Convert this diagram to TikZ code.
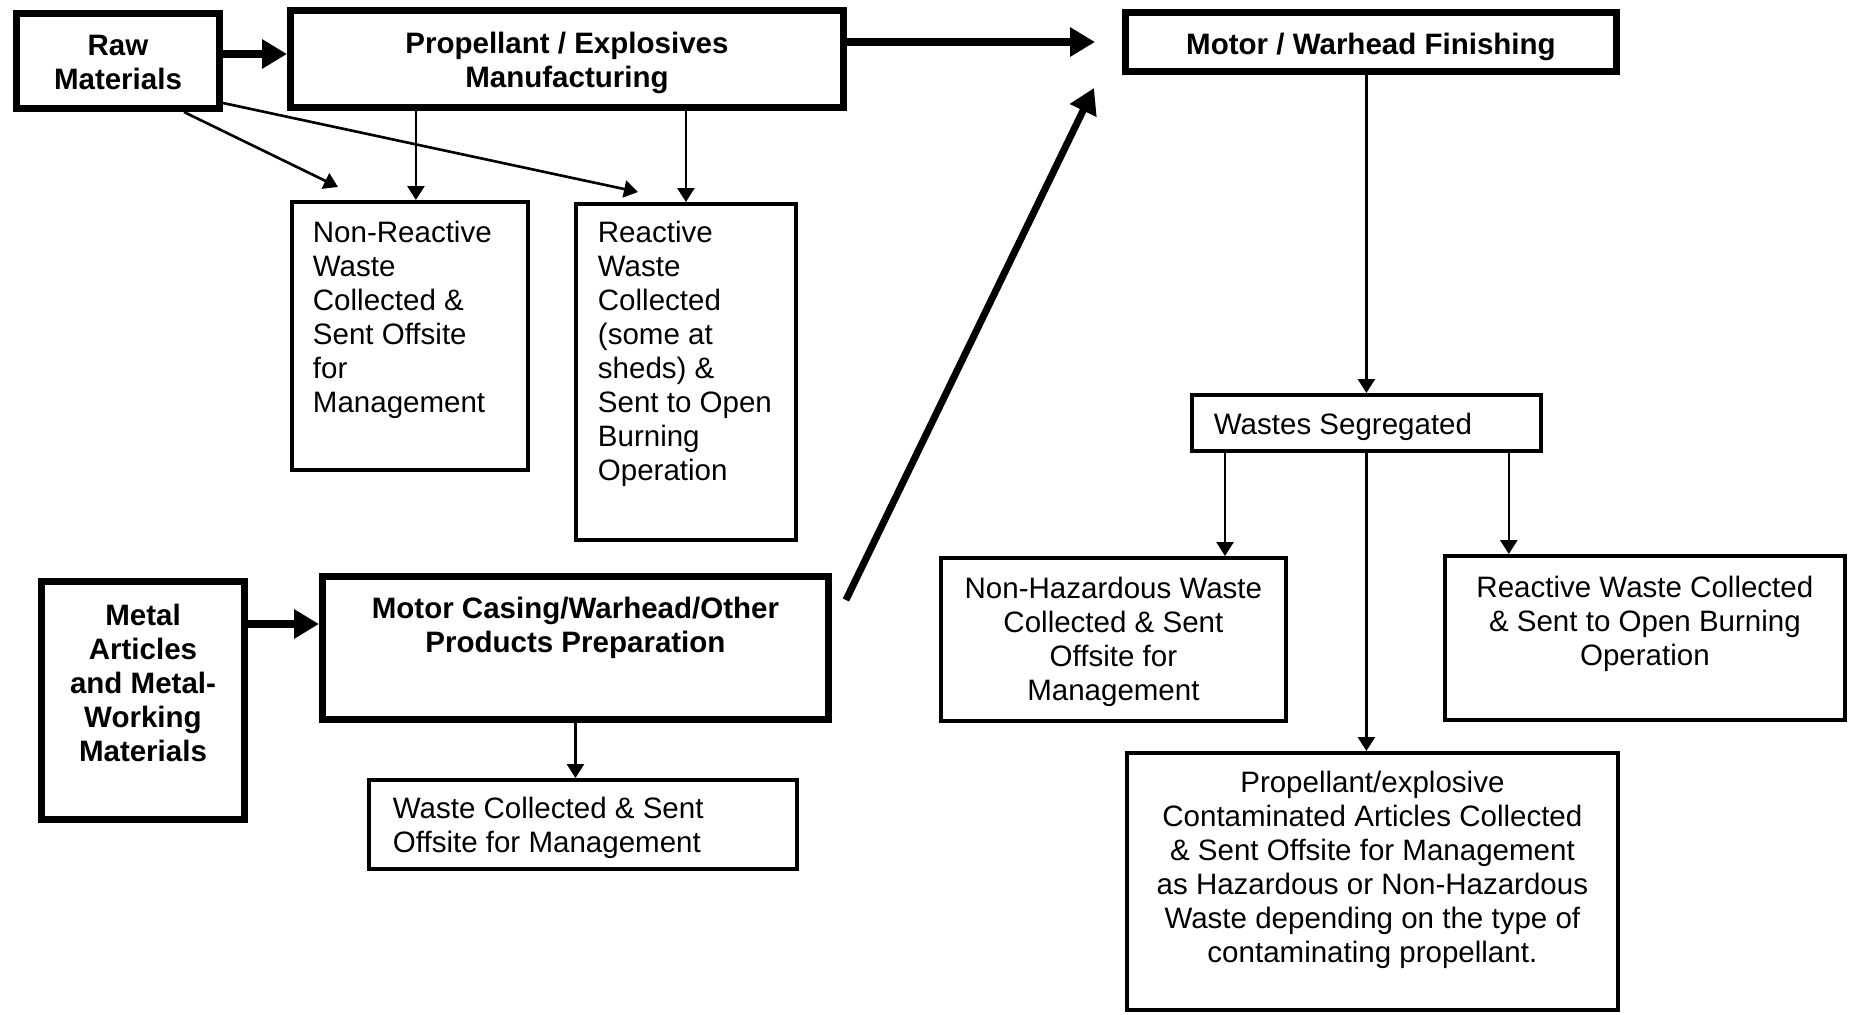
\documentclass[tikz,border=0pt]{standalone}
\usepackage{fontspec}
\setmainfont{Liberation Sans}
\usetikzlibrary{arrows.meta}

\newcommand{\flowfont}{\fontsize{16.8pt}{19.35pt}\selectfont}

\tikzset{
	heavybox/.style={draw, line width=4pt, inner sep=0pt, anchor=north west, font=\flowfont\bfseries},
	lightbox/.style={draw, line width=2.2pt, inner sep=0pt, anchor=north west, font=\flowfont},
	bigflow/.style={line width=4pt, -{Triangle[width=0.56cm, length=0.5cm]}},
	flow/.style={line width=1.5pt, -{Triangle[width=0.34cm, length=0.28cm]}}
}

\begin{document}
\begin{tikzpicture}[x=0.02cm, y=-0.02cm]
\useasboundingbox (0,0) rectangle (1852,1014);

% propellant line
\node[heavybox] (raw) at (13,10) {\parbox[c][1.9cm][c]{4.06cm}{\centering\strut Raw\\Materials}};
\node[heavybox, inner ysep=0.38cm] (prop) at (287,7) {\parbox[c][1.18cm][t]{11.06cm}{\centering\strut Propellant / Explosives\\Manufacturing}};
\node[lightbox, inner xsep=0.42cm, inner ysep=0.34cm] (nonreact) at (290,200)
	{\parbox[c][4.68cm][t]{3.88cm}{\raggedright\strut Non-Reactive\\Waste\\Collected \&\\Sent Offsite\\for\\Management}};
\node[lightbox, inner xsep=0.44cm, inner ysep=0.3cm] (react) at (574,202)
	{\parbox[c][6.12cm][t]{3.52cm}{\raggedright\strut Reactive\\Waste\\Collected\\(some at\\sheds) \&\\Sent to Open\\Burning\\Operation}};

% metal line
\node[heavybox, inner xsep=0.35cm, inner ysep=0.4cm] (metal) at (38,578)
	{\parbox[c][3.96cm][t]{3.36cm}{\centering\strut Metal\\Articles\\and Metal-\\Working\\Materials}};
\node[heavybox, inner xsep=0.33cm, inner ysep=0.36cm] (casing) at (319,573)
	{\parbox[c][2.14cm][t]{9.46cm}{\centering\strut Motor Casing/Warhead/Other\\Products Preparation}};
\node[lightbox, inner xsep=0.48cm, inner ysep=0.3cm] (wastecol) at (367,778)
	{\parbox[c][1.18cm][t]{7.6cm}{\raggedright\strut Waste Collected \& Sent\\Offsite for Management}};

% finishing
\node[heavybox, inner ysep=0.37cm] (motor) at (1122,9) {\parbox[c][0.44cm][t]{9.82cm}{\centering\strut Motor / Warhead Finishing}};
\node[lightbox, inner xsep=0.44cm, inner ysep=0.31cm] (seg) at (1190,393) {\parbox[c][0.5cm][t]{6.1cm}{\raggedright\strut Wastes Segregated}};
\node[lightbox, inner xsep=0.26cm, inner ysep=0.33cm] (nonhaz) at (939,556)
	{\parbox[c][2.6cm][t]{6.38cm}{\centering\strut Non-Hazardous Waste\\Collected \& Sent\\Offsite for\\Management}};
\node[lightbox, inner xsep=0.28cm, inner ysep=0.35cm] (reactr) at (1443,554)
	{\parbox[c][2.58cm][t]{7.44cm}{\centering\strut Reactive Waste Collected\\\& Sent to Open Burning\\Operation}};
\node[lightbox, inner xsep=0.24cm, inner ysep=0.31cm] (contam) at (1125,751)
	{\parbox[c][4.52cm][t]{9.34cm}{\centering\strut Propellant/explosive\\Contaminated Articles Collected\\\& Sent Offsite for Management\\as Hazardous or Non-Hazardous\\Waste depending on the type of\\contaminating propellant.}};

% heavy arrows
\coordinate (rawout) at ([yshift=0.14cm]raw.east);
\coordinate (metalout) at ([yshift=-0.92cm]metal.north east);
\draw[bigflow] (rawout) -- (rawout -| prop.west);
\draw[bigflow, shorten >=0.54cm] (prop.east |- motor.west) -- (motor.west);
\draw[bigflow] (metalout) -- (metalout -| casing.west);
\draw[bigflow] ([shift={(0.28cm,-0.54cm)}]casing.north east) -- ([shift={(-0.56cm,-0.26cm)}]motor.south west);

% waste arrows
\coordinate (nrin) at ([xshift=0.12cm]nonreact.north);
\coordinate (segl) at ([xshift=0.7cm]seg.south west);
\coordinate (segr) at ([xshift=-0.68cm]seg.south east);
\draw[flow] ([xshift=-0.78cm]raw.south east) -- ([shift={(0.96cm,0.26cm)}]nonreact.north west);
\draw[flow] ([yshift=0.18cm]raw.south east) -- ([shift={(1.28cm,0.2cm)}]react.north west);
\draw[flow] (prop.south -| nrin) -- (nrin);
\draw[flow] (prop.south -| react.north) -- (react.north);
\draw[flow] (casing.south) -- (casing.south |- wastecol.north);
\draw[flow] (motor.south -| seg.north) -- (seg.north);
\draw[flow] (segl) -- (segl |- nonhaz.north);
\draw[flow] (seg.south) -- (seg.south |- contam.north);
\draw[flow] (segr) -- (segr |- reactr.north);

\end{tikzpicture}
\end{document}
